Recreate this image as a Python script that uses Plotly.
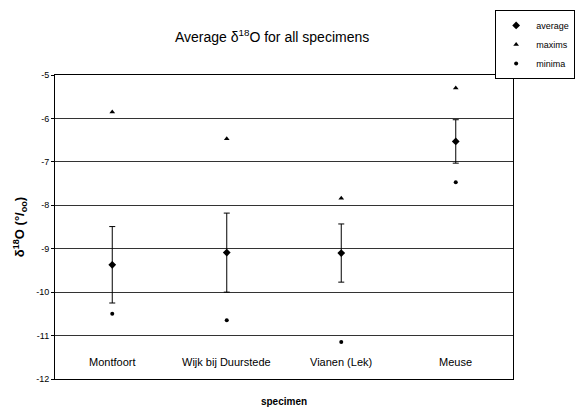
import plotly.graph_objects as go

categories = ["Montfoort", "Wijk bij Duurstede", "Vianen (Lek)", "Meuse"]
average = [-9.37, -9.09, -9.10, -6.53]
std_dev = [0.88, 0.91, 0.67, 0.50]
maxims = [-5.85, -6.47, -7.84, -5.30]
minima = [-10.50, -10.65, -11.15, -7.47]
y_ticks = [-5, -6, -7, -8, -9, -10, -11, -12]

font_family = "Arial, Liberation Sans, sans-serif"

fig = go.Figure()
fig.add_trace(go.Scatter(
    x=categories, y=average, mode="markers", name="average",
    marker=dict(symbol="diamond", size=6, color="black"),
    error_y=dict(type="data", array=std_dev, visible=True, color="black",
                 thickness=1, width=3),
))
fig.add_trace(go.Scatter(
    x=categories, y=maxims, mode="markers", name="maxims",
    marker=dict(symbol="triangle-up", size=5, color="black"),
))
fig.add_trace(go.Scatter(
    x=categories, y=minima, mode="markers", name="minima",
    marker=dict(symbol="circle", size=4, color="black"),
))

for c in categories:
    fig.add_annotation(x=c, y=-11.6, text=c, showarrow=False, xref="x", yref="y",
                       font=dict(size=11, color="black", family=font_family))

fig.update_layout(
    width=583, height=411,
    margin=dict(l=55, r=70, t=75, b=32, autoexpand=False),
    paper_bgcolor="white", plot_bgcolor="white",
    font=dict(family=font_family, color="black", size=10),
    title=dict(text="Average δ<sup>18</sup>O for all specimens",
               x=0.474, xref="paper", xanchor="center",
               y=1 - 37 / 411, yref="container", yanchor="middle",
               font=dict(size=14, color="black", family=font_family)),
    showlegend=True,
    legend=dict(x=0.961, y=1.214, xanchor="left", yanchor="top",
                bordercolor="black", borderwidth=1, bgcolor="white",
                font=dict(size=9, color="black"),
                tracegroupgap=0, itemwidth=30),
    xaxis=dict(type="category", range=[-0.5, 3.5], showticklabels=False,
               showgrid=False, showline=True, linecolor="black", linewidth=1,
               mirror=True, ticks="",
               title=dict(text="<b>specimen</b>", standoff=18,
                          font=dict(size=10, color="black"))),
    yaxis=dict(range=[-12, -5], tickvals=y_ticks, ticktext=[str(v) for v in y_ticks],
               showgrid=True, gridcolor="#333333", gridwidth=1,
               showline=True, linecolor="black", linewidth=1, mirror=True,
               ticks="outside", ticklen=3, tickcolor="black", zeroline=False,
               tickfont=dict(size=9, color="black"),
               title=dict(text="<b>δ<sup>18</sup>O (°/<sub>oo</sub>)</b>", standoff=8,
                          font=dict(size=13, color="black"))),
)

fig.write_html("out.html", config={"displayModeBar": False},
               post_script="document.body.style.margin='0';")
